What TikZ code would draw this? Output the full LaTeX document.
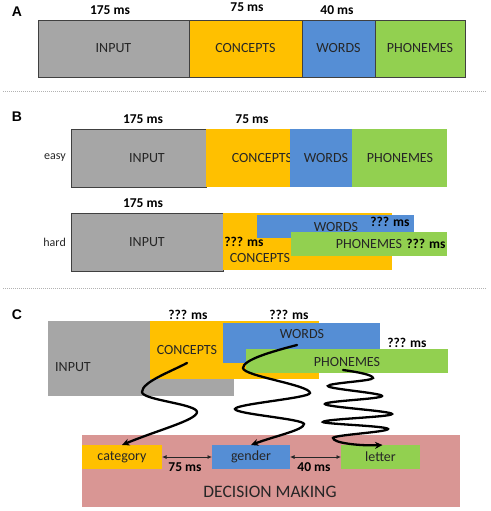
\documentclass[tikz,border=0pt]{standalone}
\usepackage{fontspec}
\setmainfont{Carlito}
\newfontfamily\headfont{Liberation Sans}
\usetikzlibrary{arrows.meta}
\definecolor{cgray}{HTML}{A6A6A6}
\definecolor{corange}{HTML}{FFC000}
\definecolor{cblue}{HTML}{558ED5}
\definecolor{cgreen}{HTML}{92D050}
\definecolor{cpink}{HTML}{D99694}
\definecolor{ctext}{HTML}{262626}
\definecolor{cborder}{HTML}{404040}
\tikzset{
  box/.style={rectangle, inner sep=0pt, outer sep=0pt, anchor=north west,
    font=\fontsize{14}{14}\selectfont, text=ctext},
  bord/.style={draw=cborder, line width=0.8pt},
  lab/.style={inner sep=0pt, font=\fontsize{14}{14}\selectfont, text=ctext},
  ms/.style={inner sep=0pt, font=\bfseries\fontsize{13.5}{14}\selectfont, text=black},
  side/.style={inner sep=0pt, anchor=east, font=\fontsize{12}{12}\selectfont, text=ctext},
  head/.style={inner sep=0pt, font=\headfont\bfseries\fontsize{14}{14}\selectfont},
  sep/.style={draw=gray!60, line width=0.7pt, dash pattern=on 1pt off 1pt},
  coil/.style={draw=black, line width=2.3pt, line cap=round, -{Stealth[length=7.5pt,width=7pt]}},
  dbl/.style={draw=black!85, line width=0.8pt, {Latex[length=4.5pt,width=4pt]}-{Latex[length=4.5pt,width=4pt]}},
}
\begin{document}
\begin{tikzpicture}[x=1pt,y=-1pt]
\useasboundingbox (0,0) rectangle (490,511);

% ---------- A ----------
\node[head] (hA) at (17,12) {A};
\node[box, bord, fill=cgray, minimum width=151, minimum height=57] (aIn) at (38,20) {INPUT};
\node[box, bord, fill=corange, minimum width=113, minimum height=57] (aCo) at (189,20) {CONCEPTS};
\node[box, bord, fill=cblue, minimum width=73, minimum height=57] (aWo) at (302,20) {WORDS};
\node[box, bord, fill=cgreen, minimum width=90, minimum height=57] (aPh) at (375,20) {PHONEMES};
\node[ms] (aM1) at (110,10) {175 ms};
\node[ms] (aM2) at (247,7.5) {75 ms};
\node[ms] (aM3) at (337,10.5) {40 ms};

\draw[sep] (3,91) -- (487,91);

% ---------- B ----------
\node[head] (hB) at (17,117) {B};
\node[ms] (bM1) at (143,119) {175 ms};
\node[ms] (bM2) at (252,119) {75 ms};
\node[side] (easy) at (66,158) {easy};
\node[box, bord, fill=cgray, minimum width=135, minimum height=58] (bIn) at (71,129) {};
\node[lab] (bInL) at (147,158) {INPUT};
\node[box, fill=corange, minimum width=84, minimum height=58] (bCo) at (206,129) {};
\node[lab] (bCoL) at (262,158) {CONCEPTS};
\node[box, fill=cblue, minimum width=62, minimum height=58] (bWo) at (290,129) {};
\node[lab] (bWoL) at (326,158) {WORDS};
\node[box, fill=cgreen, minimum width=95, minimum height=58] (bPh) at (352,129) {};
\node[lab] (bPhL) at (400,158) {PHONEMES};

\node[ms] (hM1) at (143,203) {175 ms};
\node[side] (hard) at (66,242) {hard};
\node[box, bord, fill=cgray, minimum width=152, minimum height=58] (hIn) at (71,213) {};
\node[lab] (hInL) at (147,242) {INPUT};
\node[box, fill=corange, minimum width=169, minimum height=57] (hCo) at (223,213) {};
\node[ms] (hCoM) at (244,242) {??? ms};
\node[lab] (hCoL) at (260,258) {CONCEPTS};
\node[box, fill=cblue, minimum width=157, minimum height=23] (hWo) at (257,215) {};
\node[lab] (hWoL) at (336,227) {WORDS};
\node[ms] (hWoM) at (390,222) {??? ms};
\node[box, fill=cgreen, minimum width=156, minimum height=24] (hPh) at (291,232) {};
\node[lab] (hPhL) at (369,244) {PHONEMES};
\node[ms] (hPhM) at (426,244) {??? ms};

\draw[sep] (3,288) -- (487,288);

% ---------- C ----------
\node[head] (hC) at (17,315) {C};
\node[box, fill=cgray, minimum width=186, minimum height=75] (cIn) at (48,321) {};
\node[lab] (cInL) at (73,367) {INPUT};
\node[box, fill=corange, minimum width=169, minimum height=58] (cCo) at (150,321) {};
\node[lab] (cCoL) at (187,350) {CONCEPTS};
\node[box, fill=cblue, minimum width=157, minimum height=40] (cWo) at (223,323) {};
\node[lab] (cWoL) at (302,334) {WORDS};
\node[box, fill=cgreen, minimum width=202, minimum height=24] (cPh) at (246,349) {};
\node[lab] (cPhL) at (347,362) {PHONEMES};
\node[ms] (cM1) at (188,315) {??? ms};
\node[ms] (cM2) at (289,315) {??? ms};
\node[ms] (cM3) at (407,343) {??? ms};

\node[box, fill=cpink, minimum width=378, minimum height=72] (dm) at (82,435) {};
\node[inner sep=0pt, font=\fontsize{17.5}{18}\selectfont, text=ctext] (dmL) at (270,492) {DECISION MAKING};
\node[box, fill=corange, minimum width=80, minimum height=24] (cat) at (82,445) {category};
\node[box, fill=cblue, minimum width=78, minimum height=24] (gen) at (212,445) {gender};
\node[box, fill=cgreen, minimum width=79, minimum height=24] (let) at (341,445) {letter};
\draw[dbl] (cat.east) -- (gen.west);
\draw[dbl] (gen.east) -- (let.west);
\node[ms] (m75) at (185,467) {75 ms};
\node[ms] (m40) at (314,467) {40 ms};

\coordinate (s1) at (187,363);
\coordinate (s2) at (297,345);
\coordinate (s3) at (343,370);

\draw[coil] (s1) .. controls (170,372) and (142,382) .. (142,392)
  .. controls (142,400) and (197,404) .. (197,412)
  .. controls (197,420) and (158,430) .. (cat.north);

\draw[coil] (s2) .. controls (270,352) and (243,360) .. (243,368)
  .. controls (243,376) and (310,385) .. (310,393)
  .. controls (310,398) and (235,404) .. (235,409)
  .. controls (235,414) and (304,419) .. (304,424)
  .. controls (304,430) and (275,436) .. (gen.north);

\draw[coil] (s3) .. controls (358,372) and (373,375) .. (373,378)
  .. controls (373,381) and (328,383) .. (328,386)
  .. controls (328,389) and (382,393) .. (382,396)
  .. controls (382,399) and (325,401) .. (325,404)
  .. controls (325,407) and (392,411) .. (392,414)
  .. controls (392,417) and (323,419) .. (323,422)
  .. controls (323,424) and (388,426) .. (388,429)
  .. controls (388,432) and (333,435) .. (333,438)
  .. controls (333,443) and (360,446) .. ([xshift=2pt]let.north);
\end{tikzpicture}
\end{document}
